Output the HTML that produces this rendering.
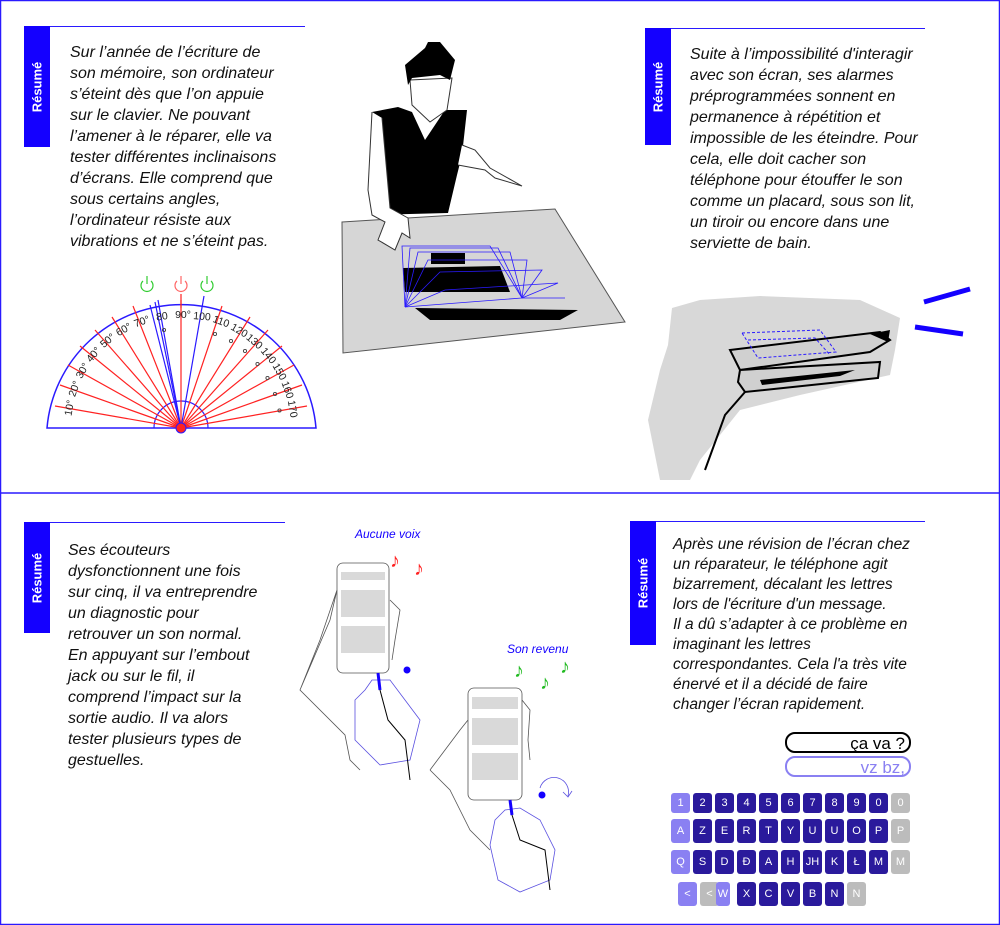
<!DOCTYPE html>
<html><head><meta charset="utf-8"><style>
body{margin:0;background:#fff;}
#c{position:relative;width:1000px;height:925px;overflow:hidden;font-family:"Liberation Sans",sans-serif;}
.t{position:absolute;font-style:italic;font-size:16px;line-height:21px;color:#111;}
.tab{position:absolute;background:#1400ff;width:26px;}
.tab span{position:absolute;left:50%;top:50%;transform:translate(-50%,-50%) rotate(-90deg);color:#fff;font-weight:bold;font-size:13px;white-space:nowrap;}
.hl{position:absolute;height:1px;background:#2a1aff;}
.k{position:absolute;width:19px;height:20px;border-radius:3px;color:#fff;font-size:11px;text-align:center;line-height:20px;}
.d{background:#2a1a9c}.l{background:#8a80f2}.g{background:#bcbcbc}
</style></head><body><div id="c">
<svg width="1000" height="925" style="position:absolute;left:0;top:0">
<rect x="0.5" y="0.5" width="999" height="924" fill="none" stroke="#2a1aff" stroke-width="1.5"/>
<line x1="0" y1="493" x2="1000" y2="493" stroke="#2a1aff" stroke-width="1.5"/>
<!-- protractor -->
<g>
<path d="M47 428 A135 135 0 0 1 316 428 Z" fill="none" stroke="#2a1aff" stroke-width="1.5"/>
<path d="M154 428 A27 27 0 0 1 208 428" fill="none" stroke="#2a1aff" stroke-width="1.2"/>
<g stroke="#f22" stroke-width="1.2">
<line x1="181" y1="428" x2="55" y2="406"/><line x1="181" y1="428" x2="60" y2="385"/>
<line x1="181" y1="428" x2="68" y2="365"/><line x1="181" y1="428" x2="80" y2="346"/>
<line x1="181" y1="428" x2="95" y2="330"/><line x1="181" y1="428" x2="112" y2="317"/>
<line x1="181" y1="428" x2="133" y2="306"/><line x1="181" y1="428" x2="181" y2="300"/>
<line x1="181" y1="428" x2="222" y2="306"/><line x1="181" y1="428" x2="250" y2="317"/>
<line x1="181" y1="428" x2="268" y2="330"/><line x1="181" y1="428" x2="282" y2="346"/>
<line x1="181" y1="428" x2="294" y2="365"/><line x1="181" y1="428" x2="302" y2="385"/>
<line x1="181" y1="428" x2="307" y2="406"/>
<line x1="181" y1="294" x2="181" y2="308"/>
</g>
<g stroke="#2a1aff" stroke-width="1.2">
<line x1="181" y1="428" x2="158" y2="300"/><line x1="181" y1="428" x2="155" y2="302"/>
<line x1="181" y1="428" x2="150" y2="305"/><line x1="181" y1="428" x2="204" y2="296"/>
</g>
<circle cx="181" cy="428" r="5" fill="#f22" stroke="#2a1aff"/>
<g font-size="10.5" fill="#222" font-family="Liberation Sans" text-anchor="middle" dominant-baseline="middle">
<text transform="translate(70,408) rotate(-80)">10°</text><text transform="translate(75,389) rotate(-70)">20°</text>
<text transform="translate(83,371) rotate(-60)">30°</text><text transform="translate(94,355) rotate(-50)">40°</text>
<text transform="translate(108,341) rotate(-40)">50°</text><text transform="translate(124,330) rotate(-30)">60°</text>
<text transform="translate(142,322) rotate(-20)">70°</text><text transform="translate(162,317) rotate(-8)">80</text>
<text transform="translate(183,315)">90°</text><text transform="translate(202,317) rotate(5)">100</text>
<text transform="translate(221,322) rotate(20)">110</text><text transform="translate(239,331) rotate(30)">120</text>
<text transform="translate(254,342) rotate(40)">130</text><text transform="translate(268,356) rotate(50)">140</text>
<text transform="translate(279,372) rotate(60)">150</text><text transform="translate(287,390) rotate(70)">160</text>
<text transform="translate(292,409) rotate(80)">170</text>
</g>
<g fill="none" stroke="#444" stroke-width="0.9">
<circle cx="164" cy="330" r="1.6"/><circle cx="215" cy="334" r="1.6"/><circle cx="231" cy="341" r="1.6"/><circle cx="245" cy="351" r="1.6"/><circle cx="257.5" cy="364" r="1.6"/><circle cx="267.5" cy="378" r="1.6"/><circle cx="275" cy="394" r="1.6"/><circle cx="279.5" cy="410.5" r="1.6"/>
</g>
<g fill="none" stroke-width="1.2">
<path d="M143 281 A6 6 0 1 0 151 281" stroke="#3c3"/><line x1="147" y1="276" x2="147" y2="284" stroke="#3c3"/>
<path d="M177 281 A6 6 0 1 0 185 281" stroke="#f66"/><line x1="181" y1="276" x2="181" y2="284" stroke="#f66"/>
<path d="M203 281 A6 6 0 1 0 211 281" stroke="#3c3"/><line x1="207" y1="276" x2="207" y2="284" stroke="#3c3"/>
</g>
</g>
<!-- person / table -->
<polygon points="342,222 555,209 625,322 343,353" fill="#d6d6d6" stroke="#555"/>
<polygon points="372,112 398,107 412,112 425,140 445,110 467,110 462,155 457,175 448,213 372,215" fill="#000"/>
<path d="M372,112 L368,190 L372,215 L385,222 L378,240 L395,250 L402,233 L410,238 L408,218 L390,208 L382,118" fill="#fff" stroke="#333"/>
<path d="M462,145 L475,150 L490,168 L522,186 L495,178 L485,170 L458,165" fill="#fff" stroke="#333"/>
<path d="M410,80 L412,105 L430,122 L447,110 L452,78 Z" fill="#fff" stroke="#333"/>
<polygon points="405,65 425,48 428,42 440,42 455,60 450,80 440,75 412,78 408,85" fill="#000"/>
<polygon points="403,268 500,266 510,292 405,292" fill="#000"/>
<rect x="431" y="253" width="34" height="11" fill="#000"/>
<polygon points="415,308 578,310 560,320 430,320" fill="#000"/>
<g stroke="#2a1aff" stroke-width="0.8" fill="none">
<path d="M405,307 L402,246 L490,246 L522,298"/><path d="M405,307 L410,248 L498,248 L522,298"/>
<path d="M405,307 L418,252 L510,252 L522,298"/><path d="M405,307 L428,260 L527,260 L522,298"/>
<path d="M405,307 L440,272 L542,270 L522,298"/><path d="M405,307 L445,290 L558,283 L522,298"/>
<path d="M405,307 L522,298 L565,298"/>
</g>
<!-- towel -->
<path d="M672,308 L700,300 L760,296 L860,300 L900,318 L895,350 L890,375 L800,395 L740,410 L700,460 L690,480 L660,480 L648,420 L660,370 L668,345 Z" fill="#d8d8d8"/>
<path d="M730,350 L880,332 L890,340 L870,352 L740,370 Z" fill="#d0d0d0" stroke="#000" stroke-width="2"/>
<path d="M740,370 L880,362 L878,378 L745,392 L738,382 Z" fill="#d0d0d0" stroke="#000" stroke-width="2"/>
<path d="M760,380 L855,370 L840,376 L762,385 Z" fill="#000"/>
<path d="M870,334 L890,330 L888,342 Z" fill="#000"/>
<path d="M745,392 L725,415 L705,470" fill="none" stroke="#000" stroke-width="2"/>
<path d="M742,333 L820,330 L836,352 L758,358 Z" fill="none" stroke="#2a1aff" stroke-dasharray="3,2" stroke-width="1"/>
<path d="M748,340 L815,338 L830,355" fill="none" stroke="#2a1aff" stroke-dasharray="3,2" stroke-width="1"/>
<line x1="924" y1="302" x2="970" y2="289" stroke="#1400ff" stroke-width="5"/>
<line x1="915" y1="327" x2="963" y2="334" stroke="#1400ff" stroke-width="5"/>
<!-- phones -->
<g fill="none" stroke="#555" stroke-width="0.8">
<path d="M300,690 L330,620 L337,590 L320,640 L300,690 L345,735 L350,760 L360,770"/>
<path d="M390,600 L400,610 L395,640 L392,660"/>
<rect x="337" y="563" width="52" height="110" rx="6"/>
<path d="M430,770 L460,730 L468,720 M430,770 L450,790 L470,830 L490,850"/>
<path d="M522,700 L530,710 L528,740 L530,760"/>
<rect x="468" y="688" width="54" height="112" rx="6"/>
</g>
<g fill="#d9d9d9"><rect x="341" y="572" width="44" height="8"/><rect x="341" y="590" width="44" height="27"/><rect x="341" y="626" width="44" height="27"/>
<rect x="472" y="697" width="46" height="12"/><rect x="472" y="718" width="46" height="27"/><rect x="472" y="753" width="46" height="27"/></g>
<g fill="none" stroke="#5a50e0" stroke-width="0.8">
<path d="M365,690 L372,680 L390,680 L405,700 L420,720 L410,760 L380,765 L355,740 L355,700 Z"/>
<path d="M495,820 L505,810 L520,808 L540,820 L555,850 L550,880 L520,892 L498,880 L490,845 Z"/>
<path d="M540,788 A12 12 0 1 1 568,796" /><path d="M563,792 L568,797 L572,791"/>
</g>
<line x1="378" y1="673" x2="380" y2="690" stroke="#1400ff" stroke-width="3"/>
<line x1="510" y1="800" x2="512" y2="815" stroke="#1400ff" stroke-width="3"/>
<path d="M380,690 L388,720 L405,740 L410,780" fill="none" stroke="#000"/>
<path d="M512,815 L520,840 L545,850 L550,890" fill="none" stroke="#000"/>
<circle cx="407" cy="670" r="3.5" fill="#1400ff"/><circle cx="542" cy="795" r="3.5" fill="#1400ff"/>
<!-- bubbles -->
<rect x="786" y="733" width="124" height="19" rx="9" fill="none" stroke="#000" stroke-width="2"/>
<rect x="786" y="757" width="124" height="19" rx="9" fill="none" stroke="#8a80f2" stroke-width="2"/>
<text x="905" y="749" text-anchor="end" font-size="17" font-family="Liberation Sans" fill="#000">ça va ?</text>
<text x="905" y="773" text-anchor="end" font-size="17" font-family="Liberation Sans" fill="#8a80f2">vz bz,</text>
</svg>
<div style="position:absolute;left:390px;top:550px;color:#f22;font-size:20px">♪</div>
<div style="position:absolute;left:414px;top:558px;color:#f22;font-size:20px">♪</div>
<div style="position:absolute;left:514px;top:660px;color:#2b2;font-size:20px">♪</div>
<div style="position:absolute;left:540px;top:672px;color:#2b2;font-size:20px">♪</div>
<div style="position:absolute;left:560px;top:656px;color:#2b2;font-size:20px">♪</div>
<div style="position:absolute;left:355px;top:527px;font-style:italic;font-size:12px;color:#1400ff">Aucune voix</div>
<div style="position:absolute;left:507px;top:642px;font-style:italic;font-size:12px;color:#1400ff">Son revenu</div>

<div class="hl" style="left:24px;top:26px;width:281px"></div>
<div class="tab" style="left:24px;top:26px;height:121px"><span>Résumé</span></div>
<div class="t" style="left:70px;top:42px">Sur l’année de l’écriture de<br>son mémoire, son ordinateur<br>s’éteint dès que l’on appuie<br>sur le clavier. Ne pouvant<br>l’amener à le réparer, elle va<br>tester différentes inclinaisons<br>d’écrans. Elle comprend que<br>sous certains angles,<br>l’ordinateur résiste aux<br>vibrations et ne s’éteint pas.</div>

<div class="hl" style="left:645px;top:28px;width:280px"></div>
<div class="tab" style="left:645px;top:28px;height:117px"><span>Résumé</span></div>
<div class="t" style="left:690px;top:44px">Suite à l’impossibilité d'interagir<br>avec son écran, ses alarmes<br>préprogrammées sonnent en<br>permanence à répétition et<br>impossible de les éteindre. Pour<br>cela, elle doit cacher son<br>téléphone pour étouffer le son<br>comme un placard, sous son lit,<br>un tiroir ou encore dans une<br>serviette de bain.</div>

<div class="hl" style="left:24px;top:522px;width:261px"></div>
<div class="tab" style="left:24px;top:522px;height:111px"><span>Résumé</span></div>
<div class="t" style="left:68px;top:540px">Ses écouteurs<br>dysfonctionnent une fois<br>sur cinq, il va entreprendre<br>un diagnostic pour<br>retrouver un son normal.<br>En appuyant sur l’embout<br>jack ou sur le fil, il<br>comprend l’impact sur la<br>sortie audio. Il va alors<br>tester plusieurs types de<br>gestuelles.</div>

<div class="hl" style="left:630px;top:521px;width:295px"></div>
<div class="tab" style="left:630px;top:521px;height:124px"><span>Résumé</span></div>
<div class="t" style="left:673px;top:535px;font-size:15.5px;line-height:20px">Après une révision de l’écran chez<br>un réparateur, le téléphone agit<br>bizarrement, décalant les lettres<br>lors de l'écriture d'un message.<br>Il a dû s’adapter à ce problème en<br>imaginant les lettres<br>correspondantes. Cela l'a très vite<br>énervé et il a décidé de faire<br>changer l’écran rapidement.</div>

<!-- keyboard -->
<div class="k l" style="left:671px;top:793px">1</div><div class="k d" style="left:693px;top:793px">2</div><div class="k d" style="left:715px;top:793px">3</div><div class="k d" style="left:737px;top:793px">4</div><div class="k d" style="left:759px;top:793px">5</div><div class="k d" style="left:781px;top:793px">6</div><div class="k d" style="left:803px;top:793px">7</div><div class="k d" style="left:825px;top:793px">8</div><div class="k d" style="left:847px;top:793px">9</div><div class="k d" style="left:869px;top:793px">0</div><div class="k g" style="left:891px;top:793px">0</div>
<div class="k l" style="left:671px;top:819px;height:24px;line-height:24px">A</div><div class="k d" style="left:693px;top:819px;height:24px;line-height:24px">Z</div><div class="k d" style="left:715px;top:819px;height:24px;line-height:24px">E</div><div class="k d" style="left:737px;top:819px;height:24px;line-height:24px">R</div><div class="k d" style="left:759px;top:819px;height:24px;line-height:24px">T</div><div class="k d" style="left:781px;top:819px;height:24px;line-height:24px">Y</div><div class="k d" style="left:803px;top:819px;height:24px;line-height:24px">U</div><div class="k d" style="left:825px;top:819px;height:24px;line-height:24px">U</div><div class="k d" style="left:847px;top:819px;height:24px;line-height:24px">O</div><div class="k d" style="left:869px;top:819px;height:24px;line-height:24px">P</div><div class="k g" style="left:891px;top:819px;height:24px;line-height:24px">P</div>
<div class="k l" style="left:671px;top:850px;height:24px;line-height:24px">Q</div><div class="k d" style="left:693px;top:850px;height:24px;line-height:24px">S</div><div class="k d" style="left:715px;top:850px;height:24px;line-height:24px">D</div><div class="k d" style="left:737px;top:850px;height:24px;line-height:24px">Đ</div><div class="k d" style="left:759px;top:850px;height:24px;line-height:24px">A</div><div class="k d" style="left:781px;top:850px;height:24px;line-height:24px">H</div><div class="k d" style="left:803px;top:850px;height:24px;line-height:24px">JH</div><div class="k d" style="left:825px;top:850px;height:24px;line-height:24px">K</div><div class="k d" style="left:847px;top:850px;height:24px;line-height:24px">Ł</div><div class="k d" style="left:869px;top:850px;height:24px;line-height:24px">M</div><div class="k g" style="left:891px;top:850px;height:24px;line-height:24px">M</div>
<div class="k l" style="left:678px;top:882px;height:24px;line-height:24px">&lt;</div><div class="k g" style="left:700px;top:882px;height:24px;line-height:24px">&lt;</div><div class="k l" style="left:716px;top:882px;width:14px;height:24px;line-height:24px">W</div><div class="k d" style="left:737px;top:882px;height:24px;line-height:24px">X</div><div class="k d" style="left:759px;top:882px;height:24px;line-height:24px">C</div><div class="k d" style="left:781px;top:882px;height:24px;line-height:24px">V</div><div class="k d" style="left:803px;top:882px;height:24px;line-height:24px">B</div><div class="k d" style="left:825px;top:882px;height:24px;line-height:24px">N</div><div class="k g" style="left:847px;top:882px;height:24px;line-height:24px">N</div>
</div></body></html>
